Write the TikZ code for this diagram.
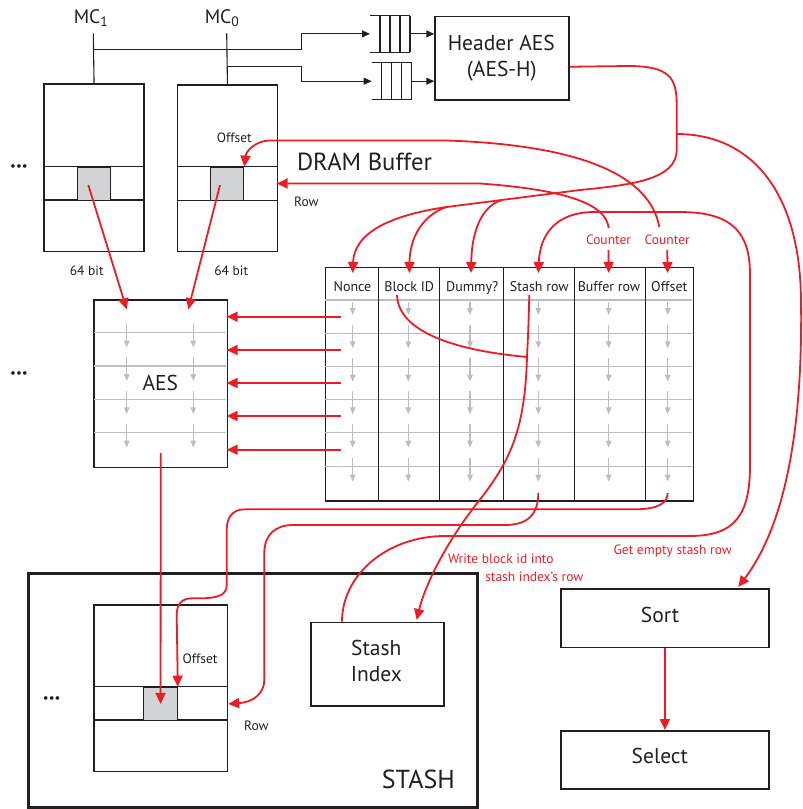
\documentclass[tikz,border=0pt]{standalone}
\usepackage{fontspec}
\setmainfont{PT Sans}
\usetikzlibrary{arrows.meta,calc}
\definecolor{ink}{HTML}{231F20}
\definecolor{rd}{HTML}{ED1C24}
\definecolor{gl}{HTML}{BCBEC0}
\definecolor{cellg}{HTML}{D1D3D4}
\newcommand{\fsz}[1]{\fontsize{#1}{#1}\selectfont}
\tikzset{
 box/.style={draw=ink, line width=1.5pt, inner sep=0pt, anchor=north west},
 cellbox/.style={draw=ink, fill=cellg, line width=1.1pt, inner sep=0pt, anchor=north west},
 blk/.style={draw=ink, line width=1.1pt},
 colln/.style={draw=ink, line width=1.5pt},
 gln/.style={draw=gl, line width=1.4pt},
 rln/.style={draw=rd, line width=1.8pt},
 rar/.style={rln, -{Triangle[length=11pt,width=10pt]}},
 gar/.style={draw=gl, line width=1.3pt, -{Triangle[length=7pt,width=5.5pt]}},
 bar/.style={draw=ink, line width=1pt, -{Triangle[length=8pt,width=7pt]}},
 txt/.style={text=ink, inner sep=0pt, anchor=base},
 small/.style={txt, font=\fsz{13.5}},
 hdr/.style={txt, font=\fsz{14}},
 rtxt/.style={text=rd, inner sep=0pt, anchor=base, font=\fsz{13.5}},
 big/.style={txt, font=\fsz{21.5}},
 dots/.style={text=ink, inner sep=0pt, font=\fsz{13}},
}
\begin{document}
\begin{tikzpicture}[x=1pt,y=-1pt]
\useasboundingbox (0,0) rectangle (803,809);

% ---------- DRAM buffer side
\node[txt, font=\fsz{19.5}] (mc1) at (91,23.3) {MC\textsubscript{1}};
\node[txt, font=\fsz{19.5}] (mc0) at (222,23.3) {MC\textsubscript{0}};

\node[box, minimum width=100pt, minimum height=167.4pt] (mem1) at (43.3,83.3) {};
\node[box, minimum width=100pt, minimum height=166.7pt] (mem0) at (176.7,84) {};
\draw[blk] (43.3,166.7) -- (143.3,166.7) (43.3,200) -- (143.3,200);
\draw[blk] (176.7,166.7) -- (276.7,166.7) (176.7,200.3) -- (276.7,200.3);
\node[cellbox, minimum width=33.3pt, minimum height=33.3pt] (cell1) at (76.7,166.7) {};
\node[cellbox, minimum width=33.3pt, minimum height=33.3pt] (cell0) at (210,166.7) {};
\node[dots] (dots1) at (19,167.7) {\textbullet\textbullet\textbullet};

% queues
\node[inner sep=0pt, minimum width=40pt, minimum height=36pt, anchor=north west] (q1) at (370,15.7) {};
\node[inner sep=0pt, minimum width=40pt, minimum height=36.6pt, anchor=north west] (q2) at (371.7,62.7) {};
\foreach \q in {q1,q2}{
  \draw[blk] (\q.north west) -- (\q.north east) (\q.south west) -- (\q.south east);
  \foreach \x in {10,20,30,40}
    \draw[blk] ($(\q.north west)+(\x,0)$) -- ($(\q.south west)+(\x,0)$);
}

\node[box, minimum width=134pt, minimum height=83.6pt] (aesh) at (434.3,15.7) {};
\node[big] (aesht1) at (501.3,50) {Header AES};
\node[big] (aesht2) at (501.8,76) {(AES-H)};

% black connectors
\coordinate (bus1) at (93.3,49.3);
\coordinate (bus0) at (226.7,66);
\draw[blk] (mem1.north) -- (93.3,33.3);
\draw[blk] (mem0.north) -- (226.7,33.3);
\draw[bar] (bus1) -- (301.7,49.3) |- (q1.west);
\draw[bar] (bus0) -- (301.7,66) |- (q2.west);
\draw[bar] (q1.east) -- (q1.east -| aesh.west);
\draw[bar] (q2.east) -- (q2.east -| aesh.west);

% DRAM labels
\node[small] (offl) at (234.3,142.7) {Offset};
\node[small] (rowl) at (306.3,206) {Row};
\node[small] (b64a) at (86.7,275) {64 bit};
\node[small] (b64b) at (231.2,275) {64 bit};
\node[txt, font=\fsz{24.7}] (dram) at (364.5,170) {DRAM Buffer};

% ---------- AES
\node[box, minimum width=133.4pt, minimum height=167.4pt] (aes) at (93.3,299.3) {};
\foreach \y in {332.7,366,399.3,432.7}{
  \draw[gln] (94,\y) -- (226,\y);
  \foreach \x in {126.7,193.3} \draw[gar] (\x,\y-8.7) -- (\x,\y+15);
}
\node[big] (aest) at (160.3,390) {AES};
\node[dots] (dots2) at (19,375) {\textbullet\textbullet\textbullet};

% ---------- buffer table
\node[box, minimum width=368pt, minimum height=233.3pt] (buf) at (324.7,266.7) {};
\foreach \y in {300,333.3,366.7,399.3,432.7,466.7} \draw[gln] (325.4,\y) -- (692,\y);
\foreach \x in {352.7,408.3,470,538.3,608.7,667.7}{
  \draw[gar] (\x,302) -- (\x,315);
  \foreach \y in {333.3,366.7,399.3,432.7,466.7} \draw[gar] (\x,\y-8.3) -- (\x,\y+15);
}
\foreach \x in {378.3,439.3,503.7,574.7,645.7} \draw[colln] (\x,266.7) -- (\x,500);
\node[hdr] (hN) at (352.5,291.7) {Nonce};
\node[hdr] (hB) at (409.2,291.7) {Block ID};
\node[hdr] (hD) at (472.2,291.7) {Dummy?};
\node[hdr] (hS) at (539.3,291.7) {Stash row};
\node[hdr] (hR) at (609,291.7) {Buffer row};
\node[hdr] (hO) at (669.3,291.7) {Offset};

\node[rtxt] (cnt1) at (608.5,244) {Counter};
\node[rtxt] (cnt2) at (667.2,244) {Counter};

% ---------- stash
\node[box, line width=3.2pt, minimum width=449pt, minimum height=234pt] (stash) at (26.7,571.7) {};
\node[txt, font=\fsz{26}] (stasht) at (418.3,788.3) {STASH};
\node[box, minimum width=133.4pt, minimum height=166.7pt] (smem) at (93.3,604) {};
\draw[blk] (93.3,686.7) -- (226.7,686.7) (93.3,720) -- (226.7,720);
\node[cellbox, minimum width=33.4pt, minimum height=33.3pt] (scell) at (143.3,686.7) {};
\node[small] (soffl) at (200,663.3) {Offset};
\node[small] (srowl) at (256.3,730.7) {Row};
\node[dots] (dots3) at (51.7,700) {\textbullet\textbullet\textbullet};
\node[box, minimum width=133.3pt, minimum height=83.3pt] (sidx) at (310,621.7) {};
\node[big] (sidxt1) at (376.3,655) {Stash};
\node[big] (sidxt2) at (376.3,681.7) {Index};

\node[box, minimum width=208.3pt, minimum height=58.4pt] (sort) at (560,588.3) {};
\node[big] (sortt) at (660,622.7) {Sort};
\node[box, minimum width=208.3pt, minimum height=58.3pt] (select) at (560,730) {};
\node[big] (selt) at (659.8,763.3) {Select};

\node[rtxt] (getl) at (672.7,554) {Get empty stash row};
\node[rtxt] (wr1) at (500.8,563.3) {Write block id into};
\node[rtxt] (wr2) at (534.3,581.7) {stash index’s row};

% ---------- red connectors
% 64 bit into AES
\draw[rar] (88.3,185) -- (126.7,309.3);
\draw[rar] (220,185) -- (188.3,309.3);
% buffer rows into AES
\foreach \y in {316.7,350,383,416,449.7} \draw[rar] (341,\y) -- (226.7,\y);
% AES to stash
\draw[rar] ($(aes.south)+(0,-15)$) -- (scell.center);

% Header AES output
\coordinate (jA) at (676.7,134);
\coordinate (jB) at (446.7,207);
\coordinate (jC) at (502,199.95);
\draw[rln] ($(aesh.east)+(0,8.5)$) -- (628,66) .. controls (670,66) and (676.7,78) .. (676.7,105) -- (jA) -- (676.7,150)
  .. controls (676.7,180) and (630,185) .. (580,190) -- (jC) -- (jB);
\draw[rar] (jB) .. controls (385,216) and (354,235) .. (352.7,273);
\draw[rar] (jB) .. controls (430,212) and (410,230) .. (409.3,273);
\draw[rar] (jC) .. controls (485,205) and (472,225) .. (471,273);
\draw[rar] (jA) .. controls (750,134) and (800,190) .. (801,300) .. controls (803,430) and (785,525) .. (738.3,587);

% counters
\draw[rar] ([yshift=-6pt]cnt1.base) -- (608.7,273);
\draw[rar] ([yshift=-6pt]cnt2.base) -- (667.7,273);
\draw[rar] (608.7,228) .. controls (606,205) and (570,190) .. (480,183.5) -- (276.7,183.5);
\draw[rar] (659.3,227) .. controls (650,175) and (580,145) .. (446.7,140.5) -- (270,140.5)
  .. controls (256,140.5) and (246,151) .. (cell0.north east);

% get empty stash row
\draw[rar] ($(sidx.north west)+(32,0)$) .. controls (342,574) and (388,536) .. (445,536) -- (690,536)
  .. controls (735,536) and (750,515) .. (750,465) -- (750,275)
  .. controls (750,235) and (735,212) .. (680,212) -- (595,212)
  .. controls (555,212) and (540,235) .. (538.3,273);

% offset to stash
\draw[rar] (667.7,493) .. controls (667.7,503) and (658,509.3) .. (635,509.3) -- (245,509.3)
  .. controls (232,509.3) and (226.7,518) .. (226.7,530) -- (226.7,585)
  .. controls (226.7,594) and (220,598.3) .. (200,598.3) -- (192,598.3)
  .. controls (181,598.3) and (176.7,605) .. (176.7,615) -- (scell.north east);

% stash row to stash row
\draw[rar] (538.3,493) .. controls (538.3,515) and (527,525) .. (505,525) -- (293,525)
  .. controls (275,525) and (264.3,535) .. (264.3,553) -- (264.3,680)
  .. controls (264.3,692) and (255,702) .. (smem.east |- scell.center);

% write block id into stash index
\coordinate (jG) at (527,357);
\draw[rln] (397,295) .. controls (398,330) and (450,350) .. (jG);
\draw[rar] (529.3,295) .. controls (528.5,330) and (527.5,345) .. (jG)
  .. controls (525,430) and (510,460) .. (482,497) .. controls (447,540) and (425,585) .. (416.7,620);

% sort to select
\draw[rar] (sort.south) -- (select.north);
\end{tikzpicture}
\end{document}
